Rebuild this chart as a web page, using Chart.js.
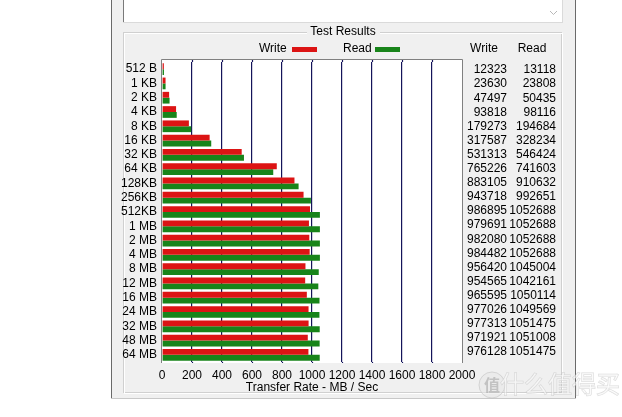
<!DOCTYPE html>
<html>
<head>
<meta charset="utf-8">
<script src="https://cdn.jsdelivr.net/npm/chart.js@4"></script>
<style>
  html, body { margin: 0; padding: 0; background: #fff; }
  #wrap { width: 622px; height: 417px; position: relative; }
</style>
</head>
<body>
<div id="wrap"><canvas id="c" width="622" height="417"></canvas></div>
<script>
// transfer sizes (rows)
const sizes = ['512 B', '1 KB', '2 KB', '4 KB', '8 KB', '16 KB', '32 KB', '64 KB', '128KB', '256KB', '512KB',
  '1 MB', '2 MB', '4 MB', '8 MB', '12 MB', '16 MB', '24 MB', '32 MB', '48 MB', '64 MB'];
// results in KB/s as shown in the table on the right
const writeKB = [12323, 23630, 47497, 93818, 179273, 317587, 531313, 765226, 883105, 943718, 986895,
  979691, 982080, 984482, 956420, 954565, 965595, 977026, 977313, 971921, 976128];
const readKB = [13118, 23808, 50435, 98116, 194684, 328234, 546424, 741603, 910632, 992651, 1052688,
  1052688, 1052688, 1052688, 1045004, 1042161, 1050114, 1049569, 1051475, 1051008, 1051475];
const xTicks = [0, 200, 400, 600, 800, 1000, 1200, 1400, 1600, 1800, 2000];

const RED = '#dc1414';
const GREEN = '#18841a';
const FONT = '"Liberation Sans", Arial, sans-serif';

// dialog frame, legend, table etc. (the stuff around the plot)
const frame = {
  id: 'frame',
  beforeDraw(chart) {
    const c = chart.ctx;
    c.save();
    c.fillStyle = '#fff';
    c.fillRect(0, 0, 622, 417);
    // dialog background
    c.fillStyle = '#f0f0f0';
    c.fillRect(111, 0, 465, 398);
    c.fillStyle = '#6a6a6a';
    c.fillRect(111, 0, 1, 398);
    c.fillRect(575, 0, 1, 398);
    c.fillStyle = '#c8c8c8';
    c.fillRect(111, 398, 465, 1);

    // text box on top
    c.fillStyle = '#fff';
    c.fillRect(123, 0, 440, 22);
    c.fillStyle = '#7a7a7a';
    c.fillRect(123, 0, 1, 22);
    c.fillStyle = '#dadada';
    c.fillRect(123, 22, 440, 1);
    c.fillRect(562, 0, 1, 22);
    // scroll arrow
    c.strokeStyle = '#b8b8b8';
    c.lineWidth = 1;
    c.beginPath();
    c.moveTo(550, 11); c.lineTo(553.5, 14.5); c.lineTo(557, 11);
    c.stroke();

    // group box
    c.strokeStyle = '#d0d0d0';
    c.strokeRect(123.5, 32.5, 438, 360);
    c.strokeStyle = '#ffffff';
    c.strokeRect(124.5, 33.5, 438, 360);
    c.fillStyle = '#f0f0f0';
    c.fillRect(307, 26, 73, 14);
    c.fillStyle = '#000';
    c.font = '12px ' + FONT;
    c.textAlign = 'center';
    c.textBaseline = 'middle';
    c.fillText('Test Results', 343, 32);

    // legend
    c.textAlign = 'left';
    c.fillText('Write', 259, 49);
    c.fillText('Read', 343, 49);
    c.fillStyle = RED;
    c.fillRect(292, 47, 25, 5);
    c.fillStyle = GREEN;
    c.fillRect(375, 47, 25, 5);

    // plot background (a bit taller than the category band)
    const a = chart.chartArea;
    c.fillStyle = '#fff';
    c.fillRect(a.left, 60, a.right - a.left, a.bottom + 1 - 60);
    c.restore();
  },
  afterDraw(chart) {
    const c = chart.ctx;
    const a = chart.chartArea;
    c.save();
    // plot border
    c.strokeStyle = '#808080';
    c.lineWidth = 1;
    c.beginPath();
    c.moveTo(a.left - 0.5, a.bottom + 1);
    c.lineTo(a.left - 0.5, 59.5);
    c.lineTo(a.right + 0.5, 59.5);
    c.lineTo(a.right + 0.5, a.bottom + 1);
    c.stroke();
    // grid lines continue up to the top border
    c.strokeStyle = '#14145a';
    c.lineWidth = 1.2;
    const xs = chart.scales.x;
    xTicks.slice(1, -1).forEach(v => {
      const px = Math.round(xs.getPixelForValue(v)) + 0.5;
      c.beginPath();
      c.moveTo(px, 60);
      c.lineTo(px, a.top);
      c.moveTo(px, a.bottom);
      c.lineTo(px, a.bottom + 1);
      c.stroke();
    });

    c.fillStyle = '#000';
    c.font = '12px ' + FONT;
    c.textBaseline = 'middle';
    c.textAlign = 'center';
    c.fillText('Transfer Rate - MB / Sec', (a.left + a.right) / 2, 388);

    // results table
    c.fillText('Write', 484, 49);
    c.fillText('Read', 532, 49);
    c.textAlign = 'right';
    for (let i = 0; i < sizes.length; i++) {
      const y = 70 + i * 14.1;
      c.fillText(String(writeKB[i]), 507, y);
      c.fillText(String(readKB[i]), 556, y);
    }

    // watermark
    c.globalAlpha = 0.55;
    c.fillStyle = '#e8e8e8';
    c.strokeStyle = '#bdbdbd';
    c.lineWidth = 1;
    c.beginPath();
    c.arc(492, 385, 13, 0, Math.PI * 2);
    c.fill();
    c.stroke();
    c.font = 'bold 16px "Noto Sans CJK SC"';
    c.textAlign = 'center';
    c.fillStyle = '#a0a0a0';
    c.fillText('值', 492, 385);
    c.font = '24px "Noto Sans CJK SC"';
    c.textAlign = 'left';
    c.fillStyle = '#ffffff';
    c.strokeText('什么值得买', 500, 384);
    c.fillText('什么值得买', 500, 384);
    c.restore();
  }
};

new Chart(document.getElementById('c'), {
  type: 'bar',
  data: {
    labels: sizes,
    datasets: [
      { label: 'Write', data: writeKB.map(v => v / 1000), backgroundColor: RED },
      { label: 'Read', data: readKB.map(v => v / 1000), backgroundColor: GREEN }
    ]
  },
  options: {
    indexAxis: 'y',
    responsive: false,
    animation: false,
    layout: { padding: { left: 0, right: 160, top: 62, bottom: 0 } },
    datasets: { bar: { categoryPercentage: 0.82, barPercentage: 1.0 } },
    plugins: { legend: { display: false }, tooltip: { enabled: false } },
    scales: {
      x: {
        min: 0, max: 2000,
        afterBuildTicks: s => { s.ticks = xTicks.map(v => ({ value: v })); },
        afterFit: s => { s.height = 55; },
        border: { display: false },
        grid: {
          color: ctx => (ctx.tick && (ctx.tick.value === 0 || ctx.tick.value === 2000)) ? 'rgba(0,0,0,0)' : '#14145a',
          lineWidth: 1.2,
          drawTicks: false
        },
        ticks: {
          color: '#000', font: { family: FONT, size: 12 }, padding: 6, maxRotation: 0,
          autoSkip: false, callback: v => String(v)
        }
      },
      y: {
        afterFit: s => { s.width = 162; },
        border: { display: false },
        grid: { display: false, drawTicks: false },
        ticks: { color: '#000', font: { family: FONT, size: 12 }, padding: 5, autoSkip: false }
      }
    }
  },
  plugins: [frame]
});
</script>
</body>
</html>
